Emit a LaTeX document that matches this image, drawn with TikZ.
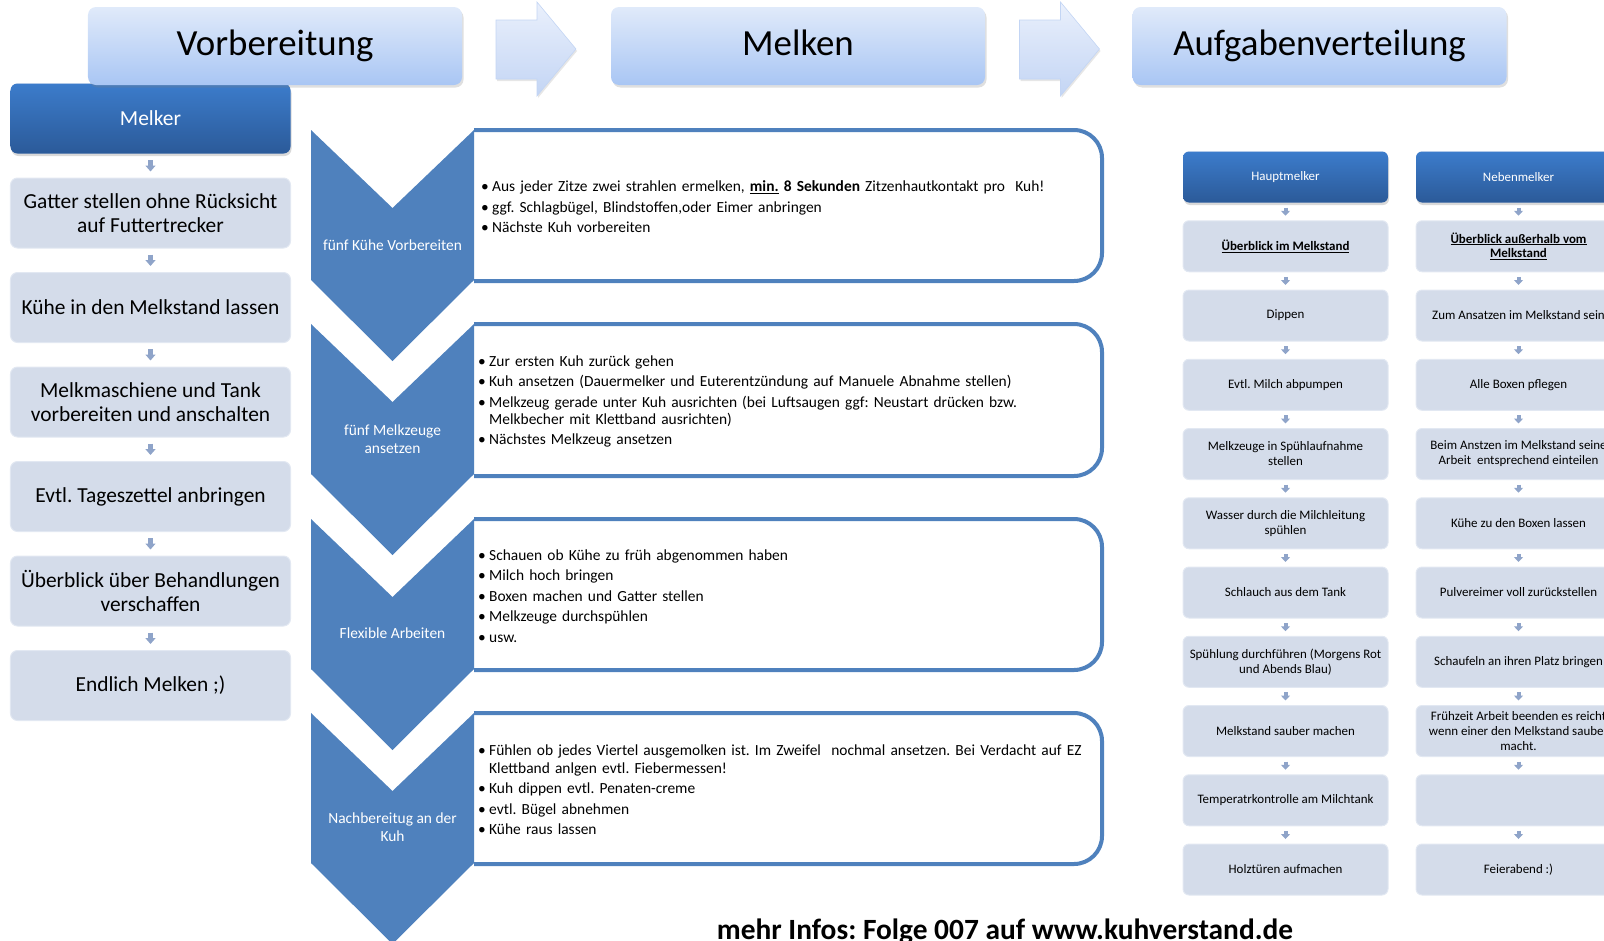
\documentclass[tikz,border=0pt]{standalone}
\usepackage{fontspec}
\setmainfont{Carlito}
\frenchspacing
\usetikzlibrary{positioning,shadows,arrows.meta}
\definecolor{chevblue}{HTML}{4F81BD}
\definecolor{phasetop}{HTML}{E0EAFA}
\definecolor{phasebot}{HTML}{A9C6F4}
\definecolor{roletop}{HTML}{3C7CCB}
\definecolor{rolebot}{HTML}{2B5A99}
\definecolor{taskgray}{HTML}{D4DCEA}
\definecolor{taskedge}{HTML}{E2E8F2}
\definecolor{arrowgray}{HTML}{8FA4C9}
\definecolor{arrowtop}{HTML}{EAF0FC}
\definecolor{arrowbot}{HTML}{C3D5F4}
\tikzstyle{phase} = [rectangle, rounded corners=8bp, top color=phasetop, bottom color=phasebot, minimum width=374bp, minimum height=78bp, text height=26bp, text depth=7bp, drop shadow={opacity=0.25, shadow xshift=1.5bp, shadow yshift=-2.5bp}, font=\fontsize{37}{40}\selectfont]
\tikzstyle{task} = [rectangle, rounded corners=7bp, fill=taskgray, draw=taskedge, line width=1bp, align=center, minimum width=280bp, minimum height=70bp, font=\fontsize{21.5}{24}\selectfont, node distance=94.5bp]
\tikzstyle{role} = [task, draw=none, top color=roletop, bottom color=rolebot, text=white, drop shadow={opacity=0.3, shadow xshift=1bp, shadow yshift=-2.5bp}]
\tikzstyle{duty} = [task, rounded corners=6bp, minimum width=205bp, minimum height=51bp, font=\fontsize{13}{15}\selectfont, node distance=69.25bp]
\tikzstyle{lead} = [duty, draw=none, top color=roletop, bottom color=rolebot, text=white, drop shadow={opacity=0.3, shadow xshift=1bp, shadow yshift=-2.5bp}]
\tikzstyle{line} = [draw, arrowgray, line width=4.5bp, -{Triangle[width=10bp,length=6bp]}, shorten <=6bp, shorten >=6bp]
\tikzstyle{smallline} = [line, line width=4bp, -{Triangle[width=9bp,length=5bp]}, shorten <=4.5bp, shorten >=4.5bp]
\tikzstyle{chevron} = [fill=chevblue]
\tikzstyle{panel} = [draw=chevblue, line width=4bp, fill=white, rounded corners=28bp]
\tikzstyle{stage} = [text=white, align=center, font=\fontsize{15.5}{17.5}\selectfont]
\tikzstyle{items} = [anchor=west, text width=640bp, align=left, inner sep=0pt, font=\fontsize{15.5}{17.5}\selectfont]
\tikzstyle{bigarrow} = [top color=arrowtop, bottom color=arrowbot, draw=arrowbot, line width=0.6bp, drop shadow={opacity=0.2, shadow xshift=1bp, shadow yshift=-2bp}]
\newcommand{\bul}[1]{\noindent\hangindent=11bp\hangafter=1\makebox[11bp][l]{\textbullet}#1\par\vspace{3bp}}

\begin{document}
\begin{tikzpicture}[x=1bp, y=-1bp]
    \useasboundingbox (0,0) rectangle (1604,940);
    \clip (0,0) rectangle (1604,940);
    % Vorbereitung column
    \node [role] (melker) at (150.5,118.5) {Melker};
    \node [task, below of=melker] (gatter) {Gatter stellen ohne Rücksicht\\auf Futtertrecker};
    \node [task, below of=gatter] (einlass) {Kühe in den Melkstand lassen};
    \node [task, below of=einlass] (maschine) {Melkmaschiene und Tank\\vorbereiten und anschalten};
    \node [task, below of=maschine] (zettel) {Evtl. Tageszettel anbringen};
    \node [task, below of=zettel] (behandlung) {Überblick über Behandlungen\\verschaffen};
    \node [task, below of=behandlung] (endlich) {Endlich Melken ;)};
    % Phase headers
    \node [phase] (vorb) at (275,46) {Vorbereitung};
    \node [phase] (melken) at (798,46) {Melken};
    \node [phase] (aufgaben) at (1319.5,46) {Aufgabenverteilung};
    \draw [bigarrow] (496,20) -- (537,20) -- (537,2) -- (576,49) -- (537,96) -- (537,79) -- (496,79) -- cycle;
    \draw [bigarrow] (1019.5,20) -- (1060.5,20) -- (1060.5,2) -- (1099.5,49) -- (1060.5,96) -- (1060.5,79) -- (1019.5,79) -- cycle;
    % Melken panels
    \draw [panel] (474,130) -- (1102,130) -- (1102,281) -- (474,281);
    \draw [panel] (474,324) -- (1102,324) -- (1102,476) -- (474,476);
    \draw [panel] (474,519) -- (1102,519) -- (1102,670) -- (474,670);
    \draw [panel] (474,713) -- (1102,713) -- (1102,864) -- (474,864);
    \fill [chevron] (311,130) -- (392.5,208) -- (474,130) -- (474,280) -- (392.5,361) -- (311,280) -- cycle;
    \fill [chevron] (311,324) -- (392.5,402) -- (474,324) -- (474,474) -- (392.5,555) -- (311,474) -- cycle;
    \fill [chevron] (311,519) -- (392.5,597) -- (474,519) -- (474,669) -- (392.5,750) -- (311,669) -- cycle;
    \fill [chevron] (311,713) -- (392.5,791) -- (474,713) -- (474,863) -- (392.5,944) -- (311,863) -- cycle;
    \node [stage] (lprep) at (392.5,245) {fünf Kühe Vorbereiten};
    \node [stage] (lattach) at (392.5,439) {fünf Melkzeuge\\ansetzen};
    \node [stage] (lflex) at (392.5,633) {Flexible Arbeiten};
    \node [stage] (lafter) at (392.5,827) {Nachbereitug an der\\Kuh};
    \node [items] (prep) at (481,207) {%
        \bul{Aus jeder Zitze zwei strahlen ermelken, \textbf{\underline{min.}} \textbf{8 Sekunden} Zitzenhautkontakt pro\ \ Kuh!}%
        \bul{ggf. Schlagbügel, Blindstoffen,oder Eimer anbringen}%
        \bul{Nächste Kuh vorbereiten}};
    \node [items] (attach) at (478,401.5) {%
        \bul{Zur ersten Kuh zurück gehen}%
        \bul{Kuh ansetzen (Dauermelker und Euterentzündung auf Manuele Abnahme stellen)}%
        \bul{Melkzeug gerade unter Kuh ausrichten (bei Luftsaugen ggf: Neustart drücken bzw.\newline Melkbecher mit Klettband ausrichten)}%
        \bul{Nächstes Melkzeug ansetzen}};
    \node [items] (flex) at (478,596) {%
        \bul{Schauen ob Kühe zu früh abgenommen haben}%
        \bul{Milch hoch bringen}%
        \bul{Boxen machen und Gatter stellen}%
        \bul{Melkzeuge durchspühlen}%
        \bul{usw.}};
    \node [items] (after) at (478,790) {%
        \bul{Fühlen ob jedes Viertel ausgemolken ist. Im Zweifel\ \ nochmal ansetzen. Bei Verdacht auf EZ\newline Klettband anlgen evtl. Fiebermessen!}%
        \bul{Kuh dippen evtl. Penaten-creme}%
        \bul{evtl. Bügel abnehmen}%
        \bul{Kühe raus lassen}};
    % Aufgabenverteilung columns
    \node [lead] (haupt) at (1285.5,177) {Hauptmelker};
    \node [duty, below of=haupt] (hblick) {\textbf{\underline{Überblick im Melkstand}}};
    \node [duty, below of=hblick] (dippen) {Dippen};
    \node [duty, below of=dippen] (abpumpen) {Evtl. Milch abpumpen};
    \node [duty, below of=abpumpen] (spuel) {Melkzeuge in Spühlaufnahme\\stellen};
    \node [duty, below of=spuel] (wasser) {Wasser durch die Milchleitung\\spühlen};
    \node [duty, below of=wasser] (schlauch) {Schlauch aus dem Tank};
    \node [duty, below of=schlauch] (spuelung) {Spühlung durchführen (Morgens Rot\\und Abends Blau)};
    \node [duty, below of=spuelung] (sauber) {Melkstand sauber machen};
    \node [duty, below of=sauber] (temp) {Temperatrkontrolle am Milchtank};
    \node [duty, below of=temp] (holz) {Holztüren aufmachen};
    \node [lead] (neben) at (1518.5,177) {Nebenmelker};
    \node [duty, below of=neben] (nblick) {\textbf{\underline{Überblick außerhalb vom}}\\\textbf{\underline{Melkstand}}};
    \node [duty, below of=nblick] (ansatz) {Zum Ansatzen im Melkstand sein};
    \node [duty, below of=ansatz] (boxen) {Alle Boxen pflegen};
    \node [duty, below of=boxen] (einteilen) {Beim Anstzen im Melkstand seine\\Arbeit\ \ entsprechend einteilen};
    \node [duty, below of=einteilen] (kuehe) {Kühe zu den Boxen lassen};
    \node [duty, below of=kuehe] (pulver) {Pulvereimer voll zurückstellen};
    \node [duty, below of=pulver] (schaufeln) {Schaufeln an ihren Platz bringen};
    \node [duty, below of=schaufeln] (frueh) {Frühzeit Arbeit beenden es reicht\\wenn einer den Melkstand sauber\\macht.};
    \node [duty, below of=frueh] (leer) {};
    \node [duty, below of=leer] (feier) {Feierabend :)};
    \node [font=\fontsize{29.5}{32}\selectfont\bfseries, anchor=base] (infos) at (1005,939) {mehr Infos: Folge 007 auf www.kuhverstand.de};
    % Draw edges
    \path [line] (melker) -- (gatter);
    \path [line] (gatter) -- (einlass);
    \path [line] (einlass) -- (maschine);
    \path [line] (maschine) -- (zettel);
    \path [line] (zettel) -- (behandlung);
    \path [line] (behandlung) -- (endlich);
    \path [smallline] (haupt) -- (hblick);
    \path [smallline] (hblick) -- (dippen);
    \path [smallline] (dippen) -- (abpumpen);
    \path [smallline] (abpumpen) -- (spuel);
    \path [smallline] (spuel) -- (wasser);
    \path [smallline] (wasser) -- (schlauch);
    \path [smallline] (schlauch) -- (spuelung);
    \path [smallline] (spuelung) -- (sauber);
    \path [smallline] (sauber) -- (temp);
    \path [smallline] (temp) -- (holz);
    \path [smallline] (neben) -- (nblick);
    \path [smallline] (nblick) -- (ansatz);
    \path [smallline] (ansatz) -- (boxen);
    \path [smallline] (boxen) -- (einteilen);
    \path [smallline] (einteilen) -- (kuehe);
    \path [smallline] (kuehe) -- (pulver);
    \path [smallline] (pulver) -- (schaufeln);
    \path [smallline] (schaufeln) -- (frueh);
    \path [smallline] (frueh) -- (leer);
    \path [smallline] (leer) -- (feier);
\end{tikzpicture}
\end{document}
